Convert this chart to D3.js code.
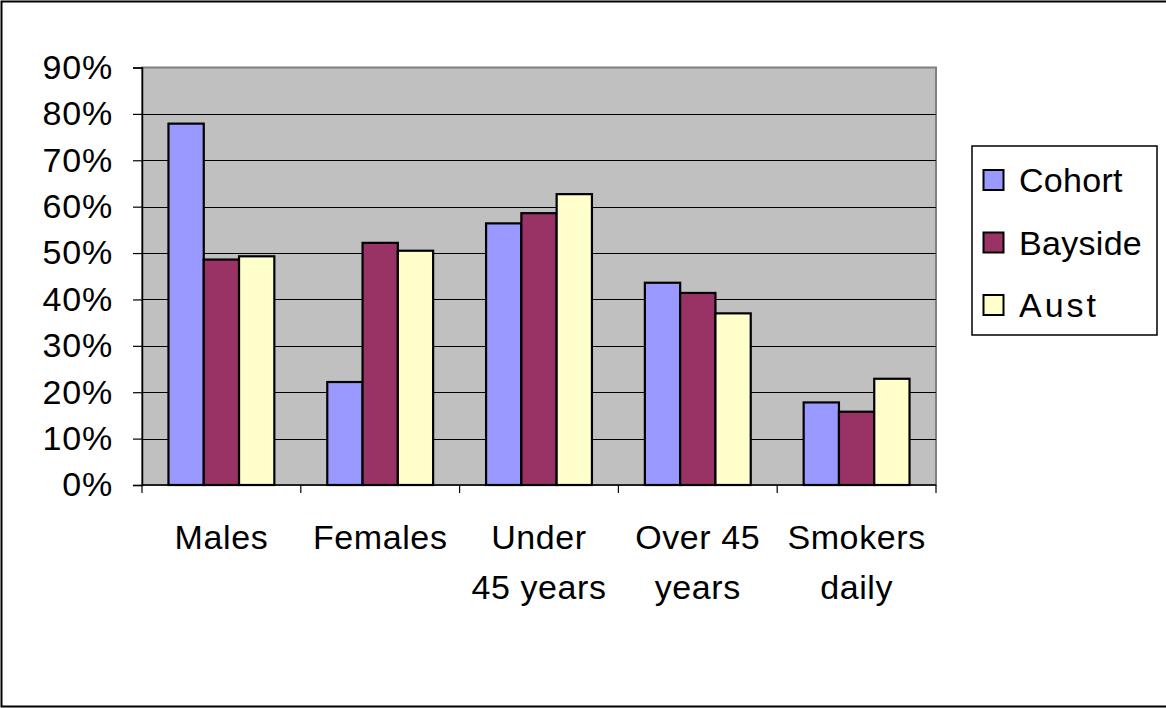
<!DOCTYPE html>
<html>
<head>
<meta charset="utf-8">
<script src="https://cdn.jsdelivr.net/npm/d3@7"></script>
<style>
  html, body { margin: 0; padding: 0; background: #fff; }
  svg { display: block; }
  text { font-family: "Liberation Sans", Arial, sans-serif; fill: #000; }
</style>
</head>
<body>
<svg id="chart" width="1166" height="708"></svg>
<script>
// Categories (label lines) and series values in percent
const categories = ["Males", "Females", "Under 45 years", "Over 45 years", "Smokers daily"];
const categoryLines = [["Males"], ["Females"], ["Under", "45 years"], ["Over 45", "years"], ["Smokers", "daily"]];
const seriesNames = ["Cohort", "Bayside", "Aust"];
const cohort  = [77.9, 22.2, 56.4, 43.6, 17.8];
const bayside = [48.6, 52.2, 58.6, 41.4, 15.8];
const aust    = [49.3, 50.5, 62.7, 37.0, 22.9];
const yTicks  = [0, 10, 20, 30, 40, 50, 60, 70, 80, 90];
const seriesColors = ["#9999FF", "#993366", "#FFFFCC"];

const seriesValues = [cohort, bayside, aust];
const svg = d3.select("#chart");
const FONT = 34;

// Outer frame
svg.append("rect")
  .attr("x", 1.5).attr("y", 1.5).attr("width", 1170).attr("height", 705)
  .attr("fill", "#fff").attr("stroke", "#000").attr("stroke-width", 2);

const plot = { left: 142, right: 936, top: 67.5, bottom: 485 };

const x = d3.scaleBand().domain(categories).range([plot.left, plot.right]).padding(0);
const y = d3.scaleLinear().domain([0, 90]).range([plot.bottom, plot.top]);
// Three bars per group with a 150% gap between groups
const groupWidth = x.bandwidth() * 3 / 4.5;
const xs = d3.scaleBand().domain(seriesNames).range([0, groupWidth]).padding(0);

// Plot background
svg.append("rect")
  .attr("x", plot.left).attr("y", plot.top)
  .attr("width", plot.right - plot.left).attr("height", plot.bottom - plot.top)
  .attr("fill", "#C0C0C0").attr("stroke", "#808080").attr("stroke-width", 2);

// Gridlines
svg.append("g").selectAll("line").data(yTicks.filter(d => d > 0 && d < 90)).join("line")
  .attr("x1", plot.left).attr("x2", plot.right)
  .attr("y1", d => Math.round(y(d)) + 0.5).attr("y2", d => Math.round(y(d)) + 0.5)
  .attr("stroke", "#000").attr("stroke-width", 1.2);

// Bars
const groups = svg.append("g").selectAll("g").data(categories).join("g")
  .attr("transform", (c) => `translate(${x(c) + (x.bandwidth() - groupWidth) / 2},0)`);
groups.selectAll("rect").data((c, i) => seriesNames.map((s, j) => ({ s, j, v: seriesValues[j][i] }))).join("rect")
  .attr("x", d => xs(d.s))
  .attr("y", d => y(d.v))
  .attr("width", xs.bandwidth())
  .attr("height", d => y(0) - y(d.v))
  .attr("fill", d => seriesColors[d.j])
  .attr("stroke", "#000").attr("stroke-width", 2.2);

// Y axis
const yAxis = d3.axisLeft(y).tickValues(yTicks).tickFormat(d => d + "%").tickSize(9).tickPadding(20);
const gy = svg.append("g").attr("transform", `translate(${plot.left},0)`).call(yAxis);
gy.select(".domain").attr("stroke", "#000").attr("stroke-width", 1.5);
gy.selectAll(".tick line").attr("stroke", "#000").attr("stroke-width", 1.2);
gy.selectAll(".tick text").attr("font-size", FONT).attr("letter-spacing", 0.8)
  .attr("font-family", "Liberation Sans, Arial, sans-serif").attr("fill", "#000");

// X axis: ticks at category boundaries
const gx = svg.append("g").attr("transform", `translate(0,${plot.bottom})`);
gx.append("line").attr("x1", plot.left).attr("x2", plot.right).attr("y1", 0).attr("y2", 0)
  .attr("stroke", "#000").attr("stroke-width", 1.5);
const boundaries = categories.map(c => x(c)).concat([plot.right]);
gx.selectAll("line.tick").data(boundaries).join("line").attr("class", "tick")
  .attr("x1", d => d).attr("x2", d => d).attr("y1", 0).attr("y2", 8)
  .attr("stroke", "#000").attr("stroke-width", 1.2);

// Category labels
const labels = svg.append("g").selectAll("text").data(categories).join("text")
  .attr("x", c => x(c) + x.bandwidth() / 2)
  .attr("y", 549)
  .attr("text-anchor", "middle")
  .attr("font-size", FONT)
  .attr("letter-spacing", 0.6);
labels.selectAll("tspan").data((c, i) => categoryLines[i]).join("tspan")
  .attr("x", function () { return d3.select(this.parentNode).attr("x"); })
  .attr("dy", (d, k) => k === 0 ? 0 : 50)
  .text(d => d);

// Legend
const legend = svg.append("g").attr("transform", "translate(972,146)");
legend.append("rect").attr("x", 0).attr("y", 0).attr("width", 185).attr("height", 189)
  .attr("fill", "#fff").attr("stroke", "#000").attr("stroke-width", 1.5);
const items = legend.selectAll("g").data(seriesNames).join("g")
  .attr("transform", (d, i) => `translate(0,${34 + i * 62.5})`);
items.append("rect").attr("x", 11.5).attr("y", -10).attr("width", 20).attr("height", 20)
  .attr("fill", (d, i) => seriesColors[i]).attr("stroke", "#000").attr("stroke-width", 2);
items.append("text").attr("x", 47).attr("y", 12).attr("font-size", FONT)
  .attr("letter-spacing", (d) => d === "Aust" ? 3 : 0.3)
  .text(d => d);
</script>
</body>
</html>
